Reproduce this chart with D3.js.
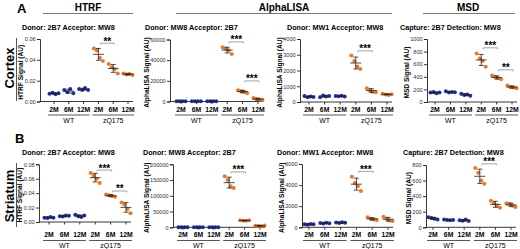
<!DOCTYPE html>
<html>
<head>
<meta charset="utf-8">
<script src="https://cdn.jsdelivr.net/npm/d3@7"></script>
<style>
body { margin: 0; background: #fff; }
svg { display: block; font-family: "Liberation Sans", Arial, sans-serif; }
</style>
</head>
<body>
<div id="fig"></div>
<script>
// ----- data -----
var ages = ['2M', '6M', '12M'];
var genotypes = ['WT', 'zQ175'];
var groups = ['WT 2M', 'WT 6M', 'WT 12M', 'zQ175 2M', 'zQ175 6M', 'zQ175 12M'];

// cortex (row A)
var htrfCortex = [
    [0.0075, 0.0085, 0.0070, 0.0080],
    [0.011, 0.009, 0.012, 0.008],
    [0.012, 0.011, 0.013, 0.011],
    [0.051, 0.049, 0.042, 0.039],
    [0.036, 0.033, 0.031, 0.027],
    [0.027, 0.026, 0.0265, 0.0255]
];
var alphaMw8Cortex = [
    [300, 200, 250, 150],
    [250, 300, 200, 150],
    [200, 250, 300, 150],
    [52500, 51000, 49500, 46000],
    [11000, 10000, 9500, 8000],
    [3500, 2500, 1800, 1500]
];
var alphaMw1Cortex = [
    [380, 300, 350, 320],
    [300, 420, 350, 380],
    [380, 360, 400, 350],
    [2950, 2600, 2250, 2100],
    [880, 750, 650, 620],
    [520, 480, 450, 500]
];
var msdCortex = [
    [150, 160, 140, 150],
    [170, 150, 160, 155],
    [130, 110, 120, 100],
    [770, 690, 650, 560],
    [420, 400, 380, 360],
    [260, 240, 230, 220]
];

// striatum (row B)
var htrfStriatum = [
    [0.006, 0.0055, 0.007, 0.006],
    [0.008, 0.0075, 0.009, 0.0085],
    [0.010, 0.008, 0.007, 0.009],
    [0.068, 0.064, 0.060, 0.054],
    [0.038, 0.037, 0.036, 0.035],
    [0.027, 0.024, 0.018, 0.012]
];
var alphaMw8Striatum = [
    [500, 300, 400, 200],
    [400, 300, 500, 200],
    [300, 500, 400, 200],
    [162000, 150000, 130000, 125000],
    [22000, 21000, 20500, 22500],
    [5000, 4000, 3000, 6000]
];
var alphaMw1Striatum = [
    [300, 250, 320, 280],
    [400, 350, 420, 380],
    [450, 400, 480, 420],
    [4800, 4200, 3900, 3450],
    [950, 800, 750, 700],
    [1000, 800, 650, 600]
];
var msdStriatum = [
    [130, 120, 110, 100],
    [100, 95, 90, 95],
    [90, 85, 100, 80],
    [760, 700, 600, 560],
    [340, 310, 280, 250],
    [310, 300, 280, 260]
];

// y tick labels
var htrfCortexTicks = [0, 0.02, 0.04, 0.06];
var alphaMw8CortexTicks = [0, 20000, 40000, 60000];
var alphaMw1CortexTicks = [0, 1000, 2000, 3000, 4000];
var msdCortexTicks = [0, 200, 400, 600, 800, 1000];
var htrfStriatumTicks = [0, 0.02, 0.04, 0.06, 0.08];
var alphaMw8StriatumTicks = [0, 50000, 100000, 150000, 200000];
var alphaMw1StriatumTicks = [0, 2000, 4000, 6000];
var msdStriatumTicks = [0, 200, 400, 600, 800];

// significance brackets: [from group, to group, height, label]
var htrfCortexSig = [[3, 4, 0.056, '**']];
var alphaMw8CortexSig = [[3, 4, 57700, '***'], [4, 5, 19900, '***']];
var alphaMw1CortexSig = [[3, 4, 3250, '***']];
var msdCortexSig = [[3, 4, 860, '***'], [4, 5, 510, '**']];
var htrfStriatumSig = [[3, 4, 0.072, '***'], [4, 5, 0.043, '**']];
var alphaMw8StriatumSig = [[3, 4, 176000, '***']];
var alphaMw1StriatumSig = [[3, 4, 5300, '***']];
var msdStriatumSig = [[3, 4, 815, '***']];

var titlesHtrf = 'Donor: 2B7 Acceptor: MW8';
var titlesAlpha8 = 'Donor: MW8 Acceptor: 2B7';
var titlesAlpha1 = 'Donor: MW1 Acceptor: MW8';
var titlesMsd = 'Capture: 2B7 Detection: MW8';

var blue = '#2430a8';
var orange = '#e8782c';
var ink = '#222';

// ----- layout -----
var svg = d3.select('#fig')
            .append('svg')
            .attr('width', 520)
            .attr('height', 249);

var panels = [
    {data: htrfCortex, ticks: htrfCortexTicks, sig: htrfCortexSig, fmt: '.2f', title: titlesHtrf, ylab: 'HTRF Signal (AU)',
     ax: 40, x0: 54, x1: 128, top: 39, bot: 101.5, titleX: 22, titleY: 29.5, labY: 111.5, grpY: 115},
    {data: alphaMw8Cortex, ticks: alphaMw8CortexTicks, sig: alphaMw8CortexSig, fmt: 'd', title: titlesAlpha8, ylab: 'AlphaLISA Signal (AU)',
     ax: 170, x0: 181, x1: 258, top: 39.5, bot: 101.5, titleX: 145, titleY: 29.5, labY: 111.5, grpY: 115},
    {data: alphaMw1Cortex, ticks: alphaMw1CortexTicks, sig: alphaMw1CortexSig, fmt: 'd', title: titlesAlpha1, ylab: 'AlphaLISA Signal (AU)',
     ax: 300, x0: 309, x1: 387, top: 39, bot: 102, titleX: 287, titleY: 29.5, labY: 111.5, grpY: 115},
    {data: msdCortex, ticks: msdCortexTicks, sig: msdCortexSig, fmt: 'd', title: titlesMsd, ylab: 'MSD Signal (AU)',
     ax: 427, x0: 435, x1: 512, top: 39, bot: 102, titleX: 400, titleY: 29.5, labY: 111.5, grpY: 115},
    {data: htrfStriatum, ticks: htrfStriatumTicks, sig: htrfStriatumSig, fmt: '.2f', title: titlesHtrf, ylab: 'HTRF Signal (AU)',
     ax: 39, x0: 49, x1: 126, top: 164.3, bot: 222, titleX: 22, titleY: 154.5, labY: 237, grpY: 240.5},
    {data: alphaMw8Striatum, ticks: alphaMw8StriatumTicks, sig: alphaMw8StriatumSig, fmt: 'd', title: titlesAlpha8, ylab: 'AlphaLISA Signal (AU)',
     ax: 173, x0: 183, x1: 260, top: 164.3, bot: 227.3, titleX: 143, titleY: 154.5, labY: 237, grpY: 240.5},
    {data: alphaMw1Striatum, ticks: alphaMw1StriatumTicks, sig: alphaMw1StriatumSig, fmt: 'd', title: titlesAlpha1, ylab: 'AlphaLISA Signal (AU)',
     ax: 302, x0: 309, x1: 388, top: 164, bot: 227.3, titleX: 277, titleY: 154.5, labY: 237, grpY: 240.5},
    {data: msdStriatum, ticks: msdStriatumTicks, sig: msdStriatumSig, fmt: 'd', title: titlesMsd, ylab: 'MSD Signal (AU)',
     ax: 426, x0: 433, x1: 511, top: 165, bot: 227.3, titleX: 403, titleY: 154.5, labY: 237, grpY: 240.5}
];

// ----- headers -----
var headers = [['HTRF', 88, 43, 133], ['AlphaLISA', 284, 176, 392], ['MSD', 468, 423, 515]];
headers.forEach(function(h) {
    svg.append('text')
        .attr('x', h[1]).attr('y', 10.5)
        .attr('text-anchor', 'middle')
        .style('font-size', '10px').style('font-weight', 'bold')
        .text(h[0]);
    svg.append('line')
        .attr('x1', h[2]).attr('x2', h[3])
        .attr('y1', 13.5).attr('y2', 13.5)
        .attr('stroke', '#777').attr('stroke-width', 1);
});

svg.append('text').attr('x', 17).attr('y', 13).text('A')
    .style('font-size', '13px').style('font-weight', 'bold');
svg.append('text').attr('x', 15).attr('y', 143).text('B')
    .style('font-size', '13px').style('font-weight', 'bold');

// region labels
[['Cortex', 68, 38, 101], ['Striatum', 196, 163, 227]].forEach(function(r) {
    svg.append('text')
        .attr('transform', 'translate(14,' + r[1] + ') rotate(-90)')
        .attr('text-anchor', 'middle')
        .style('font-size', '13px').style('font-weight', 'bold')
        .text(r[0]);
    svg.append('line')
        .attr('x1', 16.5).attr('x2', 16.5)
        .attr('y1', r[2]).attr('y2', r[3])
        .attr('stroke', '#555').attr('stroke-width', 1);
});

// ----- panels -----
function drawPanel(p) {
    var g = svg.append('g');
    var y = d3.scaleLinear().domain([0, d3.max(p.ticks)]).range([p.bot, p.top]);
    var x = d3.scalePoint().domain(groups).range([p.x0, p.x1]);
    var rep = d3.scalePoint().domain(d3.range(4)).range([-4.5, 4.5]);

    // y axis
    var ya = g.append('g')
        .attr('transform', 'translate(' + p.ax + ',0)')
        .call(d3.axisLeft(y).tickValues(p.ticks).tickFormat(d3.format(p.fmt)).tickSize(3).tickPadding(1.3));
    ya.select('.domain').attr('stroke', ink).attr('stroke-width', 0.9);
    ya.selectAll('.tick line').attr('stroke', ink).attr('stroke-width', 0.9);
    ya.selectAll('.tick text').attr('fill', '#333')
        .style('font-size', '5.6px').style('font-family', '"Liberation Sans", Arial, sans-serif');

    // x axis
    g.append('line')
        .attr('x1', p.ax).attr('x2', p.x1 + 5)
        .attr('y1', p.bot).attr('y2', p.bot)
        .attr('stroke', ink).attr('stroke-width', 0.9);
    g.selectAll('line.xt')
        .data(groups)
        .join('line')
        .attr('class', 'xt')
        .attr('x1', d => x(d)).attr('x2', d => x(d))
        .attr('y1', p.bot).attr('y2', p.bot + 2.5)
        .attr('stroke', ink).attr('stroke-width', 0.9);
    g.selectAll('text.cat')
        .data(groups)
        .join('text')
        .attr('class', 'cat')
        .attr('x', d => x(d)).attr('y', p.labY)
        .attr('text-anchor', 'middle')
        .style('font-size', '6.8px').style('font-weight', 'bold')
        .text((d, i) => ages[i % 3]);

    genotypes.forEach(function(gt, k) {
        var a = x(groups[k * 3]), b = x(groups[k * 3 + 2]);
        g.append('line')
            .attr('x1', a - 6).attr('x2', b + 6)
            .attr('y1', p.grpY).attr('y2', p.grpY)
            .attr('stroke', '#444').attr('stroke-width', 0.9);
        g.append('text')
            .attr('x', (a + b) / 2).attr('y', p.grpY + 7.5)
            .attr('text-anchor', 'middle')
            .style('font-size', '7px')
            .text(gt);
    });

    // points + mean/SD
    p.data.forEach(function(vals, i) {
        var cx = x(groups[i]);
        var col = i < 3 ? blue : orange;
        var m = d3.mean(vals), sd = d3.deviation(vals);
        g.append('g').selectAll('circle')
            .data(vals)
            .join('circle')
            .attr('cx', (d, j) => cx + rep(j))
            .attr('cy', d => y(d))
            .attr('r', 2)
            .attr('fill', col);
        var eb = g.append('g').attr('stroke', ink).attr('stroke-width', 0.8);
        eb.append('line').attr('x1', cx - 5.5).attr('x2', cx + 5.5).attr('y1', y(m)).attr('y2', y(m));
        eb.append('line').attr('x1', cx).attr('x2', cx).attr('y1', y(m - sd)).attr('y2', y(m + sd));
        eb.append('line').attr('x1', cx - 2.5).attr('x2', cx + 2.5).attr('y1', y(m - sd)).attr('y2', y(m - sd));
        eb.append('line').attr('x1', cx - 2.5).attr('x2', cx + 2.5).attr('y1', y(m + sd)).attr('y2', y(m + sd));
    });

    // significance
    p.sig.forEach(function(s) {
        var a = x(groups[s[0]]) + 2, b = x(groups[s[1]]) + 1, yy = y(s[2]);
        g.append('path')
            .attr('d', 'M' + a + ',' + (yy + 1.5) + 'V' + yy + 'H' + b + 'V' + (yy + 1.5))
            .attr('fill', 'none').attr('stroke', '#999').attr('stroke-width', 0.9);
        g.append('text')
            .attr('x', (a + b) / 2).attr('y', yy + 1.5)
            .attr('text-anchor', 'middle')
            .style('font-size', '10px').style('font-weight', 'bold')
            .text(s[3]);
    });

    // title
    g.append('text')
        .attr('x', p.titleX).attr('y', p.titleY)
        .style('font-size', '7.2px').style('font-weight', 'bold')
        .text(p.title);

    // y label, placed left of the widest tick label
    var w = d3.max(ya.selectAll('.tick text').nodes(), n => n.getBBox().width);
    g.append('text')
        .attr('transform', 'translate(' + (p.ax - 4.3 - w - 1.5) + ',' + ((p.top + p.bot) / 2 + 2) + ') rotate(-90)')
        .attr('text-anchor', 'middle')
        .style('font-size', '6.6px').style('font-weight', 'bold')
        .text(p.ylab);
}

panels.forEach(drawPanel);
</script>
</body>
</html>
